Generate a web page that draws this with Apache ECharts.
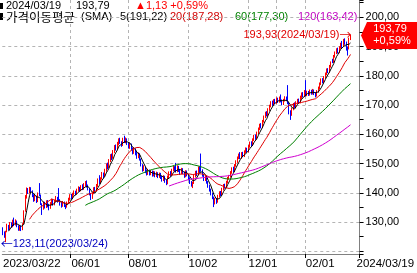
<!DOCTYPE html>
<html><head><meta charset="utf-8">
<script src="https://cdn.jsdelivr.net/npm/echarts@6/dist/echarts.min.js"></script>
<style>html,body{margin:0;padding:0;background:#fff}#c{width:417px;height:273px}</style>
</head><body><div id="c"></div>
<script>
// ---- categories: US trading days 2023/03/22 .. 2024/03/19 ----
const holidays=['2023-04-07','2023-05-29','2023-06-19','2023-07-04','2023-09-04','2023-11-23','2023-12-25','2024-01-01','2024-01-15','2024-02-19'];
const dates=[];
for(let t=Date.UTC(2023,2,22);t<=Date.UTC(2024,2,19);t+=86400000){
  const d=new Date(t);const wd=d.getUTCDay();if(wd===0||wd===6)continue;
  const s=d.toISOString().slice(0,10);if(holidays.includes(s))continue;
  dates.push(s.replace(/-/g,'/'));
}
// ---- series values ----
const openPrices=[127.8,126.0,124.5,126.8,128.7,127.7,129.5,128.5,130.3,129.2,
130.2,128.4,127.6,128.4,127.5,129.4,133.8,138.9,141.0,140.3,
141.4,140.5,139.2,137.6,138.6,137.2,141.0,139.0,136.0,134.6,
136.4,135.0,137.0,135.8,134.9,136.2,137.5,136.1,137.1,138.2,
139.0,137.4,136.5,135.6,136.6,135.5,135.2,136.5,137.7,139.1,
138.3,139.4,140.2,139.7,140.9,141.5,140.9,142.0,141.5,142.7,
143.4,142.3,141.0,139.5,138.4,139.9,141.6,140.8,142.4,144.6,
143.6,144.9,146.4,145.8,147.7,149.5,148.8,151.0,152.7,152.0,
154.1,155.8,155.1,156.7,158.1,157.0,156.4,158.4,157.4,158.2,
156.9,155.5,156.4,155.0,153.8,154.8,153.5,152.3,153.2,151.4,
149.5,147.9,148.7,147.3,146.6,147.5,146.5,147.2,146.1,146.9,
145.9,146.7,145.6,146.3,145.3,144.4,145.4,144.1,143.3,145.5,
146.9,146.1,147.8,148.7,149.2,147.5,148.8,147.7,146.7,148.1,
147.0,145.7,147.1,146.0,144.9,143.6,142.5,143.4,145.7,147.1,
146.4,148.6,150.2,147.6,146.1,144.6,145.2,143.7,142.3,141.1,
139.7,138.4,136.5,137.7,137.0,138.9,140.1,139.5,141.3,142.6,
142.0,143.7,145.0,145.7,147.0,148.3,147.6,149.4,150.7,152.0,
153.3,152.1,153.3,152.7,154.1,154.9,154.3,155.9,157.1,156.5,
158.2,159.4,158.7,160.5,161.9,163.2,162.6,164.5,166.0,167.3,
166.7,168.5,169.7,170.9,170.3,171.6,170.9,172.1,171.3,172.5,
171.5,170.5,171.7,172.4,173.8,170.6,167.8,166.8,168.7,170.3,
169.6,170.9,171.7,171.0,172.6,173.9,173.2,176.0,173.5,174.3,
173.7,174.9,174.1,174.9,174.0,173.3,174.7,175.9,177.3,178.7,
178.0,179.5,180.7,182.1,181.5,183.3,185.3,184.9,186.7,187.9,
189.0,188.2,189.7,190.9,190.3,192.2,191.4,189.1,189.3,192.7];
const closePrices=[126.0,125.2,126.6,128.9,127.6,129.6,128.4,130.2,129.0,130.4,
128.6,127.5,128.5,127.4,129.2,133.5,138.6,141.2,140.2,141.3,
140.6,139.0,137.5,138.8,137.0,139.6,139.3,136.2,134.4,136.5,
135.2,136.9,135.6,134.8,136.3,137.4,136.0,137.2,138.4,137.0,
137.6,136.3,135.4,136.8,135.7,135.0,136.6,137.8,139.0,138.2,
139.5,140.3,139.6,140.8,141.6,140.8,142.0,141.4,142.6,143.3,
142.2,141.2,139.6,138.2,139.8,141.4,140.6,142.5,144.3,143.5,
144.8,146.5,145.6,147.6,149.4,148.6,150.9,152.6,151.8,154.0,
155.7,155.0,156.8,158.0,157.2,156.2,158.2,157.5,158.4,156.8,
155.6,156.6,154.9,153.6,155.0,153.4,152.2,153.3,151.5,149.6,
147.8,148.8,147.2,146.5,147.6,146.4,147.3,146.0,147.0,145.8,
146.8,145.5,146.4,145.2,144.3,145.5,144.0,143.2,145.4,146.8,
146.0,147.7,148.6,147.9,147.4,148.9,147.6,146.6,148.0,146.9,
145.6,147.2,146.2,144.8,143.5,142.6,143.3,145.6,147.0,146.2,
148.5,147.4,147.8,146.0,144.5,145.3,143.6,142.2,141.0,139.6,
138.3,136.4,137.8,136.9,138.8,140.0,139.4,141.2,142.5,141.9,
143.6,144.9,145.6,146.9,148.2,147.5,149.3,150.6,151.9,152.8,
152.0,153.4,152.6,154.0,155.0,154.2,155.8,157.0,156.4,158.1,
159.3,158.6,160.4,161.8,163.1,162.5,164.4,165.9,167.2,166.6,
168.4,169.6,170.8,170.2,171.5,170.8,172.0,171.2,172.3,171.4,
170.4,171.6,172.5,171.8,170.8,168.0,166.6,168.6,170.2,169.8,
170.8,171.6,170.9,172.7,173.8,173.1,174.6,173.4,174.4,173.6,
174.8,174.0,175.0,173.9,173.2,174.6,175.8,177.2,178.6,177.9,
179.4,180.6,182.0,181.4,183.2,184.4,185.1,186.6,187.8,188.9,
188.1,189.6,190.8,190.0,191.6,191.5,189.2,188.95,192.66,193.79];
const lowPrices=[125.5,124.6,123.11,126.5,127.1,127.4,128.0,128.2,128.6,128.8,
128.2,127.0,127.0,126.9,127.2,129.2,133.5,138.0,139.6,139.8,
140.0,138.5,136.9,137.1,136.5,136.8,138.8,135.8,132.4,134.2,
134.6,134.8,135.0,134.0,134.5,135.8,135.6,135.7,136.8,136.6,
137.0,135.6,134.9,135.2,135.1,134.4,134.9,136.1,137.3,137.7,
137.9,139.0,139.1,139.3,140.4,140.3,140.5,140.9,141.0,142.1,
141.8,140.8,139.1,137.5,137.9,139.5,140.1,140.4,142.0,143.0,
143.1,144.5,145.0,145.4,147.2,148.0,148.4,150.5,151.2,151.6,
153.6,154.4,154.7,156.2,156.7,155.7,156.0,157.0,156.9,156.3,
155.1,155.0,154.4,153.1,153.3,152.8,151.6,151.8,151.0,149.0,
147.2,147.4,146.7,145.9,146.1,145.9,146.0,145.5,145.6,145.3,
145.4,145.0,145.1,144.7,143.8,144.0,143.4,142.6,142.9,145.0,
145.5,145.7,147.3,147.3,146.9,147.0,147.1,146.1,146.3,146.4,
145.1,145.3,145.6,144.3,143.0,142.1,141.6,143.0,145.2,145.7,
146.0,146.9,147.2,145.5,144.0,144.0,143.1,141.7,140.4,139.1,
137.8,135.1,136.0,136.2,136.6,138.4,138.9,139.0,140.8,141.4,
141.6,143.2,144.5,145.2,146.5,147.0,147.1,148.9,150.2,151.5,
151.5,151.6,152.1,152.2,153.6,153.7,153.8,155.4,155.9,156.0,
157.7,158.1,158.2,160.0,161.4,162.0,162.1,164.0,165.5,166.1,
166.2,168.0,169.2,169.7,169.8,170.3,170.4,170.7,170.8,170.9,
169.9,170.0,171.2,171.3,170.3,166.8,164.9,166.3,168.2,169.0,
169.1,170.4,170.4,170.6,172.1,172.6,172.7,172.9,173.0,173.1,
173.2,173.5,173.6,173.4,172.6,172.9,174.2,175.4,176.8,177.4,
177.5,179.0,180.2,180.9,181.0,182.8,184.3,184.4,186.2,187.4,
187.6,187.7,189.2,189.5,189.8,190.6,188.6,186.9,189.0,192.2];
const highPrices=[128.2,126.8,127.0,129.4,129.0,130.0,129.9,130.8,131.5,130.9,
130.5,128.9,128.9,128.8,129.6,134.0,139.2,141.8,141.6,142.0,
141.9,140.8,139.5,139.3,139.0,140.1,143.3,139.4,136.4,137.0,
136.9,137.4,137.5,136.2,136.8,138.0,137.9,137.6,138.9,138.6,
141.6,137.8,136.9,137.2,137.0,135.9,137.0,138.3,139.5,139.6,
140.0,140.8,140.7,141.4,142.2,142.0,142.6,142.9,143.3,144.0,
144.2,142.8,141.4,139.9,140.3,141.9,142.0,143.0,144.9,146.0,
145.3,147.1,146.9,148.2,150.0,150.3,151.5,153.2,153.4,154.6,
156.3,156.5,157.4,158.6,158.8,157.6,158.8,159.5,158.9,158.6,
157.2,157.1,156.8,155.4,155.6,155.2,153.9,153.8,153.5,151.7,
149.8,149.4,149.0,147.8,148.2,147.9,147.8,147.6,147.5,147.3,
147.2,147.0,146.9,146.8,145.7,146.0,145.8,144.5,145.9,147.3,
147.4,148.2,149.2,149.1,150.2,149.4,149.2,148.0,148.5,148.4,
147.3,147.7,147.6,146.4,145.3,144.0,143.8,146.1,147.5,147.6,
149.0,149.1,153.4,148.0,146.5,145.8,145.6,144.0,142.7,141.4,
140.0,138.7,138.3,138.2,139.3,140.5,140.6,141.7,143.0,143.1,
144.1,145.4,146.1,147.4,148.7,148.9,149.8,151.1,152.4,153.4,
153.9,153.9,154.0,154.5,155.5,155.4,156.3,157.5,157.6,158.6,
159.8,159.9,160.9,162.3,163.6,163.8,164.9,166.4,167.7,167.9,
168.9,170.1,171.3,171.5,172.0,172.1,172.6,172.5,172.9,173.6,
171.9,172.1,173.0,172.9,176.8,171.0,168.2,169.1,170.7,170.9,
171.3,172.1,172.2,173.2,174.3,174.4,175.1,178.5,174.9,174.8,
175.3,175.2,175.5,175.3,174.4,175.1,176.3,177.7,179.1,179.2,
179.9,181.1,182.5,182.6,183.7,184.9,185.8,187.1,188.3,189.4,
189.6,190.1,191.3,191.9,192.6,192.8,191.7,190.0,193.0,193.93];
const maPeriods=[5,20,60,120];
const maColors=['#000000','#e00000','#008000','#d000d0'];
// tick labels on the time axis and the year separator
const tickLabels=['2023/03/22','2023/06/01','2023/08/01','2023/10/02','2023/12/01','2024/02/01','2024/03/19'];
const yearLine='2024/01/02';
// y-axis labelled levels
const yLabelMin=130;
// header texts
const headDate='2024/03/19', headClose='193,79', headChange='▲1,13 +0,59%';
const maHeadTitle='가격이동평균', maHeadKind='(SMA)';
const maHeadTexts=['5(191,22)','20(187,28)','60(177,30)','120(163,42)'];
const maHeadColors=['#000000','#d00000','#008000','#c000c0'];

const FONT='"Liberation Sans","Noto Sans CJK KR",sans-serif';
const fmt=v=>v.toFixed(2).replace('.',',');
function sma(n){return closePrices.map((_,i)=>{if(i<n-1)return '-';let s=0;for(let k=i-n+1;k<=i;k++)s+=closePrices[k];return +(s/n).toFixed(3);});}

const candles=dates.map((d,i)=>[openPrices[i],closePrices[i],lowPrices[i],highPrices[i]]);
const labelIdx=tickLabels.map(t=>dates.indexOf(t));
const midIdx=labelIdx.slice(1,-1);
const lineIdx=midIdx.concat([dates.indexOf(yearLine)]);
const last=dates.length-1;
const iMax=highPrices.indexOf(Math.max(...highPrices));
const iMin=lowPrices.indexOf(Math.min(...lowPrices));

const chart=echarts.init(document.getElementById('c'),null,{renderer:'canvas'});
const txt=(x,y,text,fill,size,family)=>({type:'text',x,y,style:{text,fill,fontSize:size,fontFamily:family||FONT,verticalAlign:'middle'}});
const header=[
 {type:'rect',shape:{x:0,y:3,width:3,height:6},style:{fill:'#000'}},
 {type:'rect',shape:{x:0,y:13,width:3,height:7},style:{fill:'#000'}},
 txt(6,6,headDate,'#000',11),
 txt(76,6,headClose,'#000',11),
 txt(135,6,headChange,'#ff0000',11),
 txt(6,17,maHeadTitle,'#000',12.5,'"Noto Sans CJK KR"'),
 txt(81,17,maHeadKind,'#000',11)
];
const headX=[120,170,235,298];
maHeadTexts.forEach((t,k)=>header.push(txt(headX[k],17,t,maHeadColors[k],11)));

chart.setOption({
 animation:false,
 backgroundColor:'#fff',
 grid:{left:0,top:0,width:360,height:254},
 xAxis:{type:'category',data:dates,boundaryGap:true,max:last+6,
   axisLine:{lineStyle:{color:'#808080'}},
   axisTick:{show:true,length:4,interval:(i)=>midIdx.includes(i),lineStyle:{color:'#000'}},
   axisLabel:{interval:(i)=>labelIdx.includes(i),align:'left',margin:4,fontSize:11.5,fontFamily:FONT,color:'#000',
     formatter:(v,i)=>i===0?v:(i===last?'{p|'+v+'}':v.slice(5)),rich:{p:{padding:[0,0,0,6],fontSize:11.5,fontFamily:FONT,color:'#000'}}},
   splitLine:{show:true,interval:(i)=>lineIdx.includes(i),lineStyle:{color:'#b4b4b4',type:[3,3]}}},
 yAxis:{type:'value',position:'right',min:119.06,max:205.9,splitNumber:9,scale:true,
   axisLine:{show:true,lineStyle:{color:'#808080'}},
   axisTick:{show:true,length:4,lineStyle:{color:'#000'}},
   minorTick:{show:true,splitNumber:2,length:4,lineStyle:{color:'#000'}},
   axisLabel:{margin:6,fontSize:11,fontFamily:FONT,color:'#000',formatter:v=>v<yLabelMin?'':fmt(v),showMinLabel:false,showMaxLabel:false},
   splitLine:{show:true,showMinLine:false,showMaxLine:false,lineStyle:{color:'#b4b4b4',type:[3,3]}}},
 series:[
  {type:'candlestick',data:candles,barWidth:1,
   itemStyle:{color:'#ff0000',color0:'#0000ff',borderColor:'#ff0000',borderColor0:'#0000ff',borderWidth:1},
   markPoint:{symbol:'circle',symbolSize:0,animation:false,data:[
     {coord:[dates[iMax],highPrices[iMax]],value:highPrices[iMax],
      label:{show:true,position:'left',distance:-1,color:'#e00000',fontSize:11,fontFamily:FONT,
        formatter:fmt(highPrices[iMax])+'('+dates[iMax]+'){a|→}',rich:{a:{fontSize:12,fontFamily:'"Noto Sans CJK KR"',color:'#e00000'}}}},
     {coord:[dates[iMin],lowPrices[iMin]],value:lowPrices[iMin],
      label:{show:true,position:'right',distance:-5,offset:[0,2],color:'#0000c0',fontSize:11,fontFamily:FONT,
        formatter:'{a|←}'+fmt(lowPrices[iMin])+'('+dates[iMin]+')',rich:{a:{fontSize:12,fontFamily:'"Noto Sans CJK KR"',color:'#0000c0'}}}}
   ]}},
  ...maPeriods.map((n,k)=>({type:'line',data:sma(n),showSymbol:false,symbol:'none',lineStyle:{width:1,color:maColors[k]},itemStyle:{color:maColors[k]},z:3}))
 ],
 graphic:header
});
// price badge on the value axis, placed through the axis scale
const lastClose=closePrices[last], prevClose=closePrices[last-1];
const yp=chart.convertToPixel({yAxisIndex:0},lastClose);
const pct=(lastClose-prevClose)/prevClose*100;
header.push(
 {type:'polygon',shape:{points:[[361,yp],[367,yp-13.5],[417,yp-13.5],[417,yp+13.5],[367,yp+13.5]]},style:{fill:'#ff0000'},z:10},
 {type:'text',x:390,y:yp-6.5,z:11,style:{text:fmt(lastClose),fill:'#fff',fontSize:11,fontFamily:FONT,align:'center',verticalAlign:'middle'}},
 {type:'text',x:392,y:yp+6,z:11,style:{text:(pct>=0?'+':'')+fmt(pct)+'%',fill:'#fff',fontSize:11,fontFamily:FONT,align:'center',verticalAlign:'middle'}}
);
chart.setOption({graphic:header});
</script></body></html>
